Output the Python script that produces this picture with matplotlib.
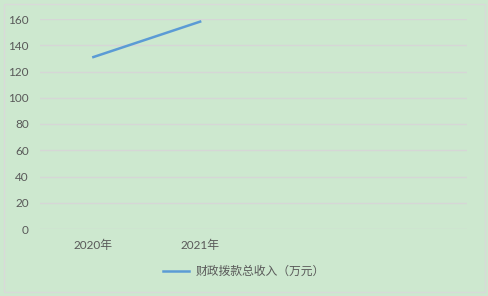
import matplotlib.pyplot as plt
from matplotlib.patches import Rectangle

plt.rcParams['font.family'] = ['Lato', 'Noto Sans CJK SC', 'DejaVu Sans']

categories = ['2020年', '2021年', '', '']
values = [131, 158]
series_name = '财政拨款总收入（万元）'
yticks = [0, 20, 40, 60, 80, 100, 120, 140, 160]

bg = '#cde8cf'
fig = plt.figure(figsize=(4.88, 2.96), dpi=100, facecolor=bg)
fig.patches.append(Rectangle((0.008, 0.012), 0.986, 0.976, transform=fig.transFigure,
                             fill=False, edgecolor='#d9d9d9', linewidth=1))

ax = fig.add_axes([40 / 488, 1 - 229 / 296, 427 / 488, 210 / 296])
ax.set_facecolor(bg)
x = list(range(len(categories)))
ax.plot(x[:len(values)], values, color='#5b9bd5', linewidth=1.8, label=series_name)

ax.set_xlim(-0.5, len(categories) - 0.5)
ax.set_ylim(0, 160)
ax.set_yticks(yticks)
ax.set_xticks(x)
ax.set_xticklabels(categories)
ax.grid(axis='y', color='#d6d6d6', linewidth=1)
ax.set_axisbelow(True)
for s in ax.spines.values():
    s.set_visible(False)
ax.tick_params(length=0, colors='#595959', labelsize=8.5)
ax.tick_params(axis='y', pad=8)
ax.tick_params(axis='x', pad=8)

leg = fig.legend(loc='center', bbox_to_anchor=(0.5, 1 - 271 / 296), frameon=False,
                 fontsize=8.5, handlelength=2.2, handletextpad=0.6)
for t in leg.get_texts():
    t.set_color('#595959')

fig.savefig('out.png', dpi=100, facecolor=bg)
